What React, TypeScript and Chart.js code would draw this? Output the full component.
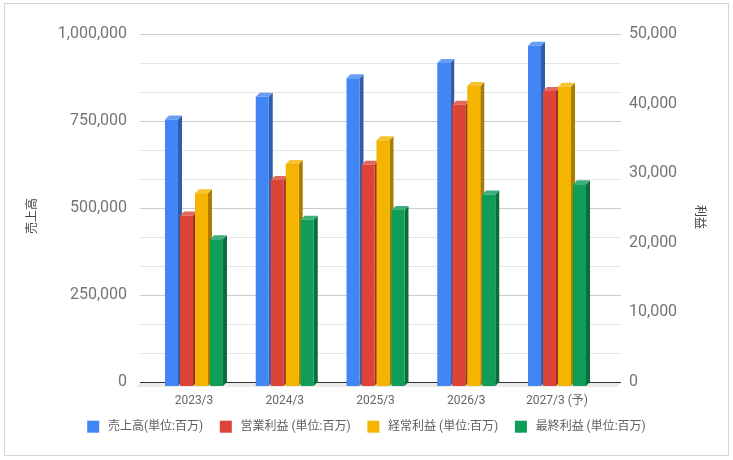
import { useEffect, useRef } from "react";
import { Chart, registerables } from "chart.js";

Chart.register(...registerables);

const categories = ["2023/3", "2024/3", "2025/3", "2026/3", "2027/3 (予)"];
const seriesNames = [
  "売上高(単位:百万)",
  "営業利益 (単位:百万)",
  "経常利益 (単位:百万)",
  "最終利益 (単位:百万)",
];
const sales = [766000, 831000, 884000, 928000, 978000];
const operatingProfit = [24500, 29600, 31800, 40400, 42400];
const ordinaryProfit = [27700, 31900, 35300, 43100, 43000];
const netProfit = [21100, 23900, 25300, 27500, 29000];
const leftAxisTitle = "売上高";
const rightAxisTitle = "利益";
const leftMax = 1000000;
const leftStep = 250000;
const rightMax = 50000;
const rightStep = 10000;

const FONT = "Roboto, 'Noto Sans CJK JP', sans-serif";
const frontColors = ["#4285F4", "#DB4437", "#F4B400", "#0F9D58"];
const sideColors = ["#2E5DAA", "#992F27", "#A97D00", "#0A6D3D"];
const topColors = ["#6A9EF6", "#E2695F", "#F6C333", "#3DB079"];
const DEPTH = 4;

const threeDPlugin = {
  id: "threeD",
  beforeDraw(chart: any) {
    const ctx = chart.ctx;
    ctx.save();
    ctx.fillStyle = "#ffffff";
    ctx.fillRect(0, 0, chart.width, chart.height);
    ctx.strokeStyle = "#d6d6d6";
    ctx.lineWidth = 1;
    ctx.strokeRect(4.5, 3.5, 724, 452);
    ctx.restore();
  },
  beforeDatasetsDraw(chart: any) {
    const ctx = chart.ctx;
    const ys = chart.scales.y;
    const area = chart.chartArea;
    const x0 = area.left - 8.6;
    const x1 = area.right + 18.6;
    ctx.save();
    // floor
    const yb = ys.getPixelForValue(0) - DEPTH;
    ctx.fillStyle = "#ebebeb";
    ctx.beginPath();
    ctx.moveTo(x0, yb);
    ctx.lineTo(x1, yb);
    ctx.lineTo(x1 - DEPTH, yb + DEPTH + 1);
    ctx.lineTo(x0 - DEPTH, yb + DEPTH + 1);
    ctx.closePath();
    ctx.fill();
    // grid
    const minor = leftStep / 3;
    for (let i = 1; i * minor <= leftMax + 1; i++) {
      const y = Math.round(ys.getPixelForValue(i * minor) - DEPTH) + 0.5;
      ctx.strokeStyle = i % 3 === 0 ? "#cccccc" : "#e6e6e6";
      ctx.lineWidth = 1;
      ctx.beginPath();
      ctx.moveTo(x0, y);
      ctx.lineTo(x1, y);
      ctx.stroke();
    }
    ctx.strokeStyle = "#333333";
    ctx.lineWidth = 1.2;
    ctx.beginPath();
    ctx.moveTo(x0, Math.round(yb) + 0.5);
    ctx.lineTo(x1, Math.round(yb) + 0.5);
    ctx.stroke();
    // sides and tops
    chart.data.datasets.forEach((_: any, di: number) => {
      const meta = chart.getDatasetMeta(di);
      meta.data.forEach((el: any) => {
        const { x, y, width, base } = el.getProps(["x", "y", "width", "base"], true);
        const l = x - width / 2;
        const r = x + width / 2;
        ctx.fillStyle = sideColors[di];
        ctx.beginPath();
        ctx.moveTo(r, y);
        ctx.lineTo(r + DEPTH, y - DEPTH);
        ctx.lineTo(r + DEPTH, base - DEPTH);
        ctx.lineTo(r, base);
        ctx.closePath();
        ctx.fill();
        ctx.fillStyle = topColors[di];
        ctx.beginPath();
        ctx.moveTo(l, y);
        ctx.lineTo(l + DEPTH, y - DEPTH);
        ctx.lineTo(r + DEPTH, y - DEPTH);
        ctx.lineTo(r, y);
        ctx.closePath();
        ctx.fill();
      });
    });
    ctx.restore();
  },
  afterDraw(chart: any) {
    const ctx = chart.ctx;
    ctx.save();
    // axis titles
    ctx.fillStyle = "#444444";
    ctx.font = `12px ${FONT}`;
    ctx.textAlign = "center";
    ctx.textBaseline = "middle";
    ctx.save();
    ctx.translate(32.5, 216);
    ctx.rotate(-Math.PI / 2);
    ctx.fillText(leftAxisTitle, 0, 0);
    ctx.restore();
    ctx.save();
    ctx.translate(699, 217);
    ctx.rotate(Math.PI / 2);
    ctx.fillText(rightAxisTitle, 0, 0);
    ctx.restore();
    // legend
    ctx.font = `12px ${FONT}`;
    const box = 12;
    const gapText = 8.7;
    const gapItem = 16.7;
    const widths = seriesNames.map((n) => ctx.measureText(n).width);
    const total =
      widths.reduce((a, b) => a + b, 0) + seriesNames.length * (box + gapText) + (seriesNames.length - 1) * gapItem;
    let x = chart.width / 2 - total / 2;
    const cy = 426.7;
    seriesNames.forEach((n, i) => {
      ctx.fillStyle = frontColors[i];
      ctx.fillRect(x, cy - box / 2, box, box);
      ctx.fillStyle = "#5f5f5f";
      ctx.textAlign = "left";
      ctx.textBaseline = "middle";
      ctx.fillText(n, x + box + gapText, cy);
      x += box + gapText + widths[i] + gapItem;
    });
    ctx.restore();
  },
};

export default function App() {
  const ref = useRef<HTMLCanvasElement | null>(null);
  useEffect(() => {
    if (!ref.current) return;
    const fmt = (v: any) => Number(v).toLocaleString("en-US");
    const chart = new Chart(ref.current, {
      type: "bar",
      data: {
        labels: categories,
        datasets: [
          { label: seriesNames[0], data: sales, yAxisID: "y", backgroundColor: frontColors[0] },
          { label: seriesNames[1], data: operatingProfit, yAxisID: "y1", backgroundColor: frontColors[1] },
          { label: seriesNames[2], data: ordinaryProfit, yAxisID: "y1", backgroundColor: frontColors[2] },
          { label: seriesNames[3], data: netProfit, yAxisID: "y1", backgroundColor: frontColors[3] },
        ],
      },
      options: {
        responsive: false,
        animation: false,
        devicePixelRatio: window.devicePixelRatio || 1,
        layout: { padding: { top: 38, left: 0, right: 0, bottom: 0 } },
        datasets: {
          bar: { categoryPercentage: 0.661, barPercentage: 0.867, borderWidth: 0 },
        },
        plugins: { legend: { display: false }, tooltip: { enabled: false } },
        scales: {
          x: {
            type: "category",
            grid: { display: false, drawTicks: false },
            border: { display: false },
            ticks: { color: "#666666", font: { size: 12, family: FONT }, padding: 8, maxRotation: 0, autoSkip: false },
            afterFit: (s: any) => {
              s.height = 74;
            },
          },
          y: {
            position: "left",
            min: 0,
            max: leftMax,
            grid: { display: false, drawTicks: false },
            border: { display: false },
            ticks: {
              stepSize: leftStep,
              callback: fmt,
              color: "#757575",
              font: { size: 16, family: FONT },
              padding: 21.6,
              labelOffset: -DEPTH,
            },
            afterFit: (s: any) => {
              s.width = 148.6;
            },
          },
          y1: {
            position: "right",
            min: 0,
            max: rightMax,
            grid: { display: false, drawTicks: false },
            border: { display: false },
            ticks: {
              stepSize: rightStep,
              callback: fmt,
              color: "#757575",
              font: { size: 16, family: FONT },
              padding: 26.6,
              labelOffset: -DEPTH,
            },
            afterFit: (s: any) => {
              s.width = 130.6;
            },
          },
        },
      },
      plugins: [threeDPlugin],
    });
    return () => chart.destroy();
  }, []);
  return (
    <div style={{ position: "absolute", left: 0, top: 0, width: 733, height: 460, background: "#fff" }}>
      <canvas ref={ref} width={733} height={460} style={{ display: "block" }} />
    </div>
  );
}
